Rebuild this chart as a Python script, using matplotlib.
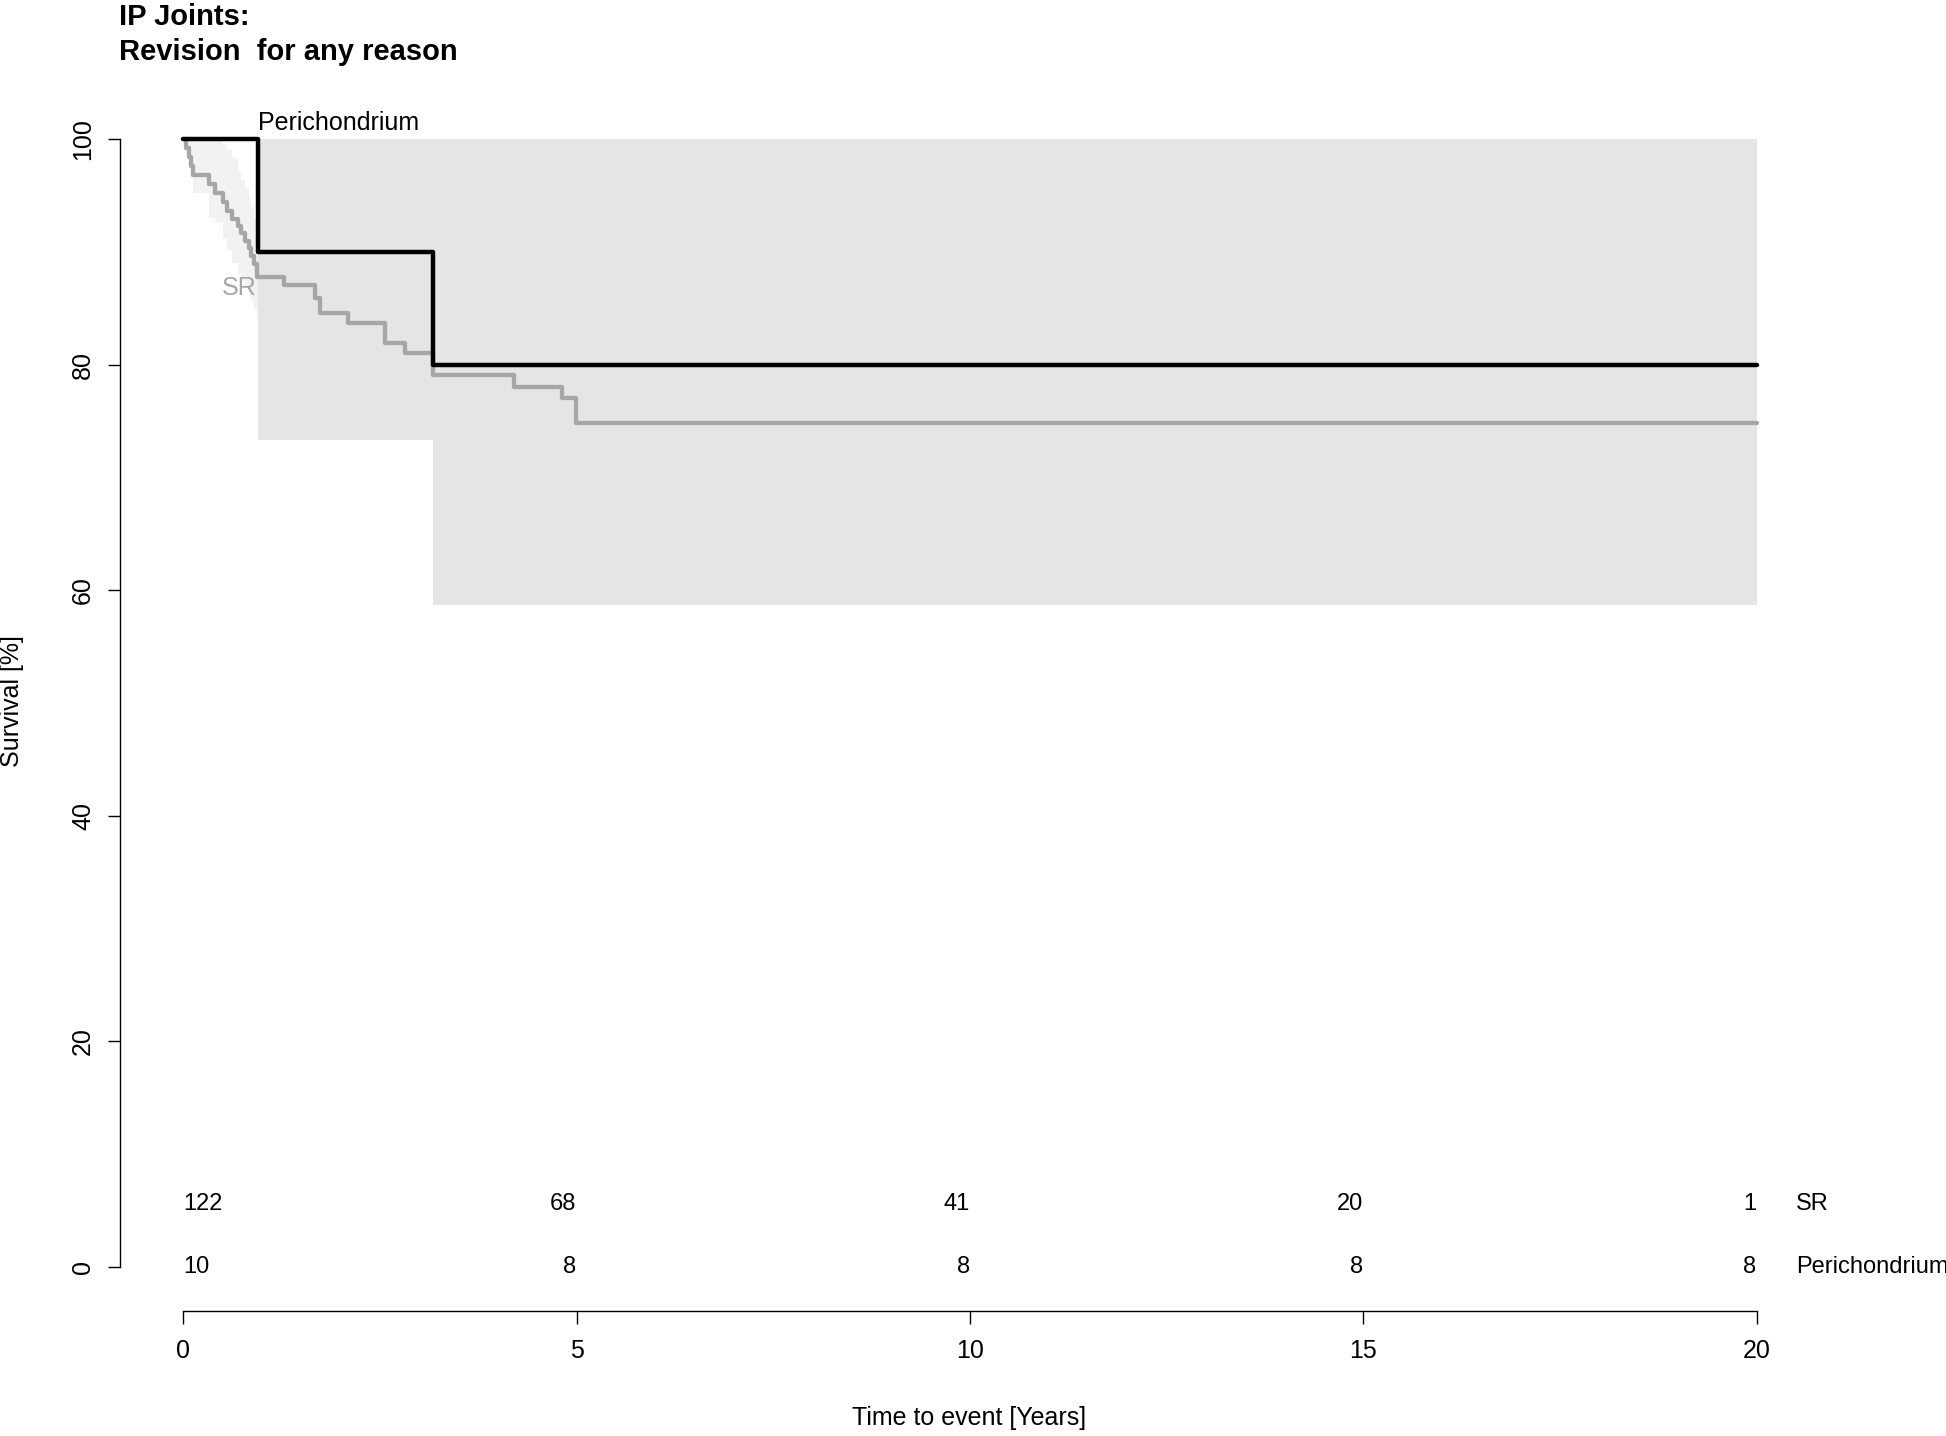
import numpy as np
import matplotlib
matplotlib.use("Agg")
import matplotlib.pyplot as plt

plt.rcParams['font.family'] = ['Liberation Sans', 'DejaVu Sans']

# ---- data ----
title_lines = ["IP Joints:", "Revision  for any reason"]
groups = ["SR", "Perichondrium"]

# SR Kaplan-Meier (time in years, survival %)
sr_t = [0, 0.04, 0.07, 0.10, 0.13, 0.33, 0.40, 0.50, 0.56, 0.62, 0.69, 0.74,
        0.79, 0.83, 0.86, 0.90, 0.94, 1.28, 1.68, 1.74, 2.10, 2.57, 2.82,
        3.18, 4.20, 4.82, 4.99, 20]
sr_s = [100, 99.2, 98.4, 97.6, 96.8, 96.0, 95.2, 94.4, 93.6, 92.9, 92.3, 91.7,
        91.0, 90.3, 89.6, 88.9, 87.8, 87.06, 85.9, 84.6, 83.66, 81.9, 81.06,
        79.1, 78.04, 77.0, 74.85, 74.85]

# SR confidence band (visible part)
sr_ci_t = [0, 0.04, 0.07, 0.10, 0.13, 0.33, 0.40, 0.50, 0.56, 0.62, 0.69,
           0.74, 0.79, 0.83, 0.86, 0.90, 0.94, 0.95]
sr_ci_low = [100, 99.0, 97.8, 96.5, 95.2, 93.0, 92.6, 91.1, 90.2, 89.0, 88.0,
             87.4, 86.8, 86.1, 85.6, 84.9, 84.1, 84.1]
sr_ci_up = [100, 100, 100, 100, 100, 100, 100, 99.6, 99.0, 98.3, 97.2,
            96.4, 95.6, 94.8, 94.0, 93.0, 92.0, 92.0]

# Perichondrium Kaplan-Meier
peri_t = [0, 0.95, 3.17, 20]
peri_s = [100, 90, 80, 80]
peri_ci_low = [100, 73.3, 58.7, 58.7]
peri_ci_up = [100, 100, 100, 100]

# numbers at risk
risk_times = [0, 5, 10, 15, 20]
risk_sr = [122, 68, 41, 20, 1]
risk_peri = [10, 8, 8, 8, 8]

x_ticks = [0, 5, 10, 15, 20]
y_ticks = [0, 20, 40, 60, 80, 100]

# ---- figure ----
W, H = 1946, 1436
fig = plt.figure(figsize=(W / 100, H / 100), dpi=100)
ax = fig.add_axes([119.5 / W, 1 - 1310.5 / H, (1819.5 - 119.5) / W, (1310.5 - 93.9) / H])
ax.set_xlim(-0.81, 20.8)
ax.set_ylim(-3.86, 104)

grey_band = '#e5e5e5'
light_band = '#f2f2f2'
sr_col = '#a6a6a6'

ax.fill_between(sr_ci_t, sr_ci_low, sr_ci_up, step='post', color=light_band, lw=0, zorder=1)
ax.fill_between(peri_t[1:], peri_ci_low[1:], peri_ci_up[1:], step='post', color=grey_band, lw=0, zorder=2)

ax.step(sr_t, sr_s, where='post', color=sr_col, lw=3.1, solid_capstyle='round',
        solid_joinstyle='round', zorder=3)
ax.step(peri_t, peri_s, where='post', color='black', lw=3.2, solid_capstyle='round',
        solid_joinstyle='round', zorder=4)

# curve labels
ax.text(0.95, 101.4, "Perichondrium", ha='left', va='center', fontsize=18, color='black')
ax.text(0.93, 86.8, "SR", ha='right', va='center', fontsize=18, color=sr_col)

# risk table
for i, (t, a, b) in enumerate(zip(risk_times, risk_sr, risk_peri)):
    ha = 'left' if i == 0 else 'right'
    ax.text(t, 5.6, str(a), ha=ha, va='center', fontsize=17)
    ax.text(t, 0, str(b), ha=ha, va='center', fontsize=17)
ax.text(20.5, 5.6, groups[0], ha='left', va='center', fontsize=17, clip_on=False)
ax.text(20.5, 0, groups[1], ha='left', va='center', fontsize=17, clip_on=False)

# axes styling (R-like)
for s in ['top', 'right']:
    ax.spines[s].set_visible(False)
ax.spines['left'].set_bounds(0, 100)
ax.spines['bottom'].set_bounds(0, 20)
ax.spines['left'].set_linewidth(1.0)
ax.spines['bottom'].set_linewidth(1.0)
ax.set_xticks(x_ticks)
ax.set_yticks(y_ticks)
ax.set_xticklabels([str(v) for v in x_ticks], fontsize=18)
ax.set_yticklabels([str(v) for v in y_ticks], fontsize=18, rotation=90, va='center')
ax.tick_params(axis='x', direction='out', length=9.4, width=1.0, pad=11)
ax.tick_params(axis='y', direction='out', length=8.6, width=1.0, pad=9)

# titles and axis labels
fig.text(119 / W, 1 - 25 / H, title_lines[0], ha='left', va='baseline', fontsize=21, fontweight='bold')
fig.text(119 / W, 1 - 60 / H, title_lines[1], ha='left', va='baseline', fontsize=21, fontweight='bold')
fig.text(969.5 / W, 1 - 1418 / H, "Time to event [Years]", ha='center', va='center', fontsize=18)
fig.text(12.5 / W, 1 - 701 / H, "Survival [%]", ha='center', va='center', fontsize=18, rotation=90)

fig.savefig("out.png", dpi=100)
